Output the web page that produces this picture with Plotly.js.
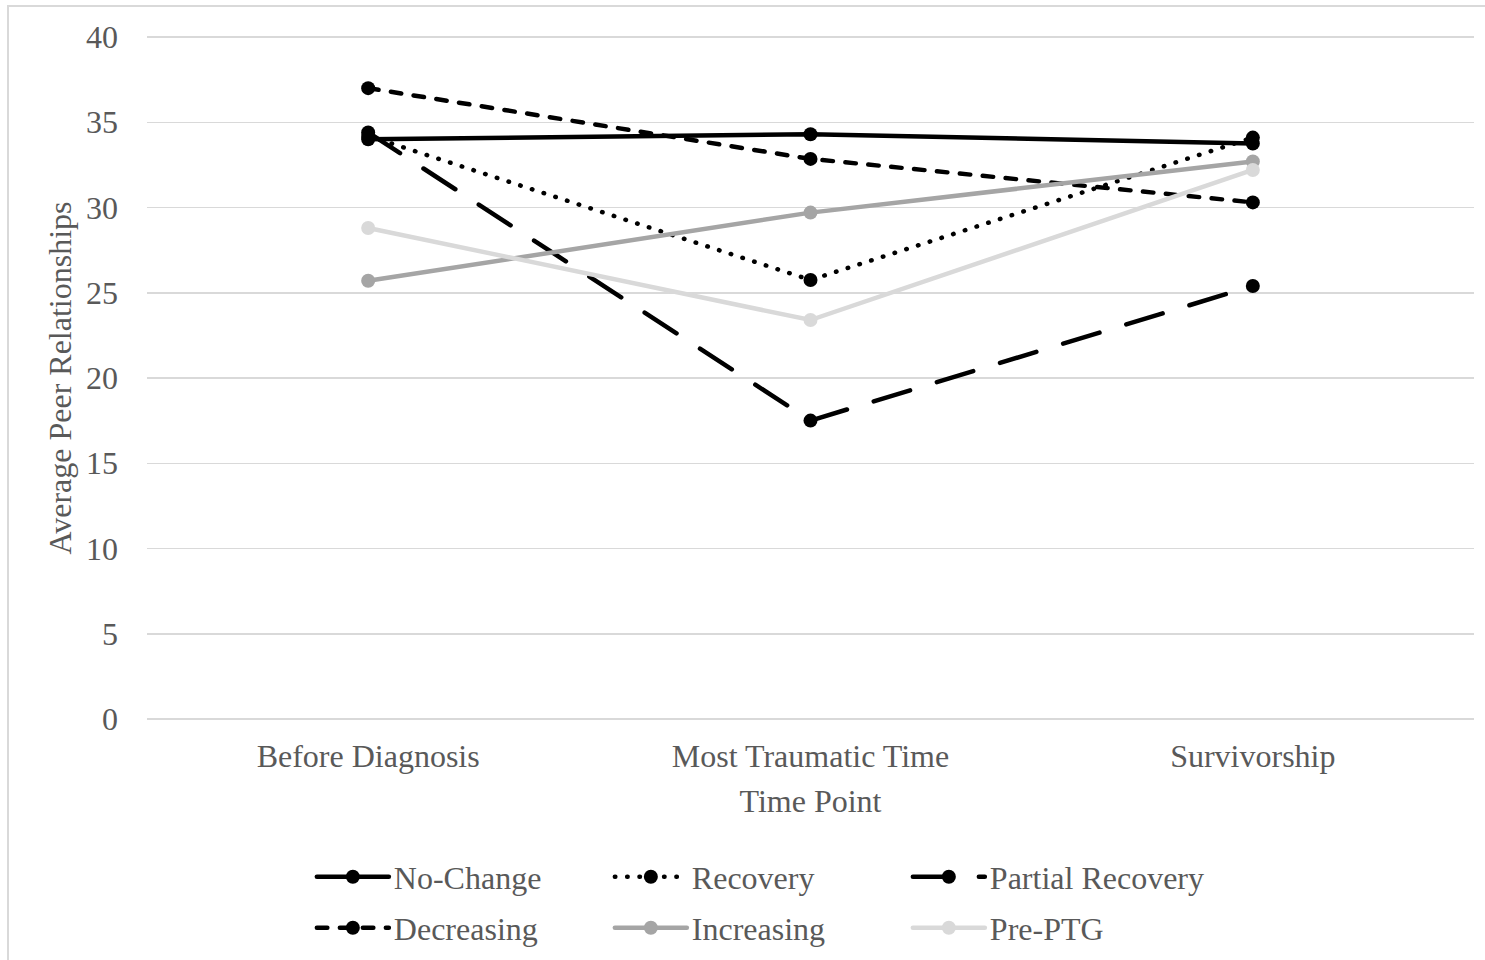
<!DOCTYPE html>
<html>
<head>
<meta charset="utf-8">
<script src="https://cdn.plot.ly/plotly-3.0.1.min.js"></script>
<style>
  html, body { margin: 0; padding: 0; background: #fff; }
  #chart { position: absolute; left: 0; top: 0; width: 1485px; height: 960px; }
  #frame { position: absolute; left: 7px; top: 5px; width: 1500px; height: 1000px;
           border: 2px solid #d9d9d9; pointer-events: none; box-sizing: border-box; }
  .js-line { stroke-linecap: round; }
</style>
</head>
<body>
<div id="chart"></div>
<div id="frame"></div>
<script>
const categories = ["Before Diagnosis", "Most Traumatic Time", "Survivorship"];
const seriesNames = ["No-Change", "Recovery", "Partial Recovery", "Decreasing", "Increasing", "Pre-PTG"];
const noChange        = [34.0, 34.3, 33.75];
const recovery        = [34.2, 25.75, 34.1];
const partialRecovery = [34.4, 17.5, 25.4];
const decreasing      = [37.0, 32.85, 30.3];
const increasing      = [25.7, 29.7, 32.7];
const prePTG          = [28.8, 23.4, 32.2];
const yTicks = [0, 5, 10, 15, 20, 25, 30, 35, 40];

const seriesValues = [noChange, recovery, partialRecovery, decreasing, increasing, prePTG];
const styles = [
  {color: "#000000", dash: "solid", legend: "legend"},
  {color: "#000000", dash: "0.5px,11.8px", legend: "legend"},
  {color: "#000000", dash: "38px,28px", legend: "legend"},
  {color: "#000000", dash: "10.5px,12.5px", legend: "legend2"},
  {color: "#a5a5a5", dash: "solid", legend: "legend2"},
  {color: "#d9d9d9", dash: "solid", legend: "legend2"}
];

const FONT = "Liberation Serif, Times New Roman, serif";
const TXT = "#595959";
const FS = 32;

const traces = seriesValues.map((vals, i) => ({
  type: "scatter",
  mode: "lines+markers",
  name: seriesNames[i],
  x: categories,
  y: vals,
  legend: styles[i].legend,
  line: {color: styles[i].color, width: 4.5, dash: styles[i].dash},
  marker: {color: styles[i].color, size: 14, symbol: "circle"},
  hoverinfo: "skip"
}));

const legendCommon = {
  orientation: "h",
  xref: "container", yref: "container",
  xanchor: "left", yanchor: "middle",
  x: 0.21,
  font: {family: FONT, size: FS, color: TXT},
  itemwidth: 72,
  entrywidth: 211,
  entrywidthmode: "pixels",
  bgcolor: "rgba(0,0,0,0)",
  borderwidth: 0,
  traceorder: "normal"
};

const layout = {
  width: 1485, height: 960,
  paper_bgcolor: "#ffffff", plot_bgcolor: "#ffffff",
  margin: {l: 147, r: 11, t: 34, b: 238, autoexpand: false},
  font: {family: FONT, size: FS, color: TXT},
  showlegend: true,
  xaxis: {
    type: "category",
    range: [-0.5, 2.5],
    showgrid: false, zeroline: false, showline: false,
    ticks: "", ticklabelstandoff: 12,
    tickfont: {family: FONT, size: FS, color: TXT},
    title: {text: "Time Point", font: {family: FONT, size: FS, color: TXT}, standoff: 16},
    automargin: false, fixedrange: true
  },
  yaxis: {
    range: [-0.176, 40.176],
    tickvals: yTicks,
    ticktext: yTicks.map(String),
    showgrid: true, gridcolor: "#d9d9d9", gridwidth: 1.5,
    zeroline: false, showline: false,
    ticks: "", ticklabelstandoff: 28,
    tickfont: {family: FONT, size: FS, color: TXT},
    title: {text: "Average Peer Relationships", font: {family: FONT, size: FS, color: TXT}, standoff: 4},
    automargin: false, fixedrange: true
  },
  legend: Object.assign({}, legendCommon, {y: 1 - 877 / 960}),
  legend2: Object.assign({}, legendCommon, {y: 1 - 928 / 960})
};

Plotly.newPlot("chart", traces, layout, {displayModeBar: false, staticPlot: true});
</script>
</body>
</html>
